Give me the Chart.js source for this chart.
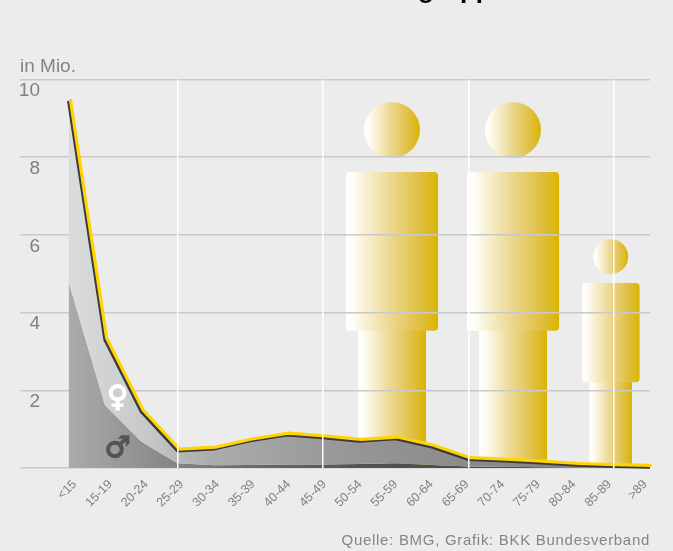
<!DOCTYPE html>
<html lang="de">
<head>
<meta charset="utf-8">
<script src="https://cdn.jsdelivr.net/npm/chart.js@4"></script>
<style>
  html,body{margin:0;padding:0;background:#ececec;overflow:hidden}
  #wrap{position:relative;width:673px;height:551px;font-family:'Liberation Sans',sans-serif}
  canvas{position:absolute;left:0;top:0}
  .txt{position:absolute;white-space:nowrap;color:#858585}
  #title{right:151px;top:-26.3px;font-size:26px;font-weight:bold;color:#000}
  #unit{left:20px;top:55px;font-size:19px}
  #source{right:23px;top:531px;font-size:15px;letter-spacing:.7px}
</style>
</head>
<body>
<div id="wrap">
  <canvas id="chart" width="673" height="551"></canvas>
  <div class="txt" id="title">Versicherte nach Altersgruppen</div>
  <div class="txt" id="unit">in Mio.</div>
  <div class="txt" id="source">Quelle: BMG, Grafik: BKK Bundesverband</div>
</div>
<script>
const ageGroups = ['<15','15-19','20-24','25-29','30-34','35-39','40-44','45-49','50-54','55-59','60-64','65-69','70-74','75-79','80-84','85-89','>89'];
const totalValues = [9.45,3.3,1.45,0.44,0.49,0.7,0.85,0.78,0.69,0.75,0.54,0.22,0.18,0.13,0.07,0.04,0.02];
const maleValues = [4.8,1.62,0.68,0.12,0.07,0.08,0.09,0.09,0.1,0.12,0.08,0.04,0.03,0.02,0.01,0.01,0];
const yTicks = [0,2,4,6,8,10];
const dividerGroups = ['25-29','45-49','65-69','85-89'];

// pictograms: position on the age axis, height in Mio.
const figureGroups = [8.9,12.23,14.92];
const figureHeights = [9.42,9.42,5.89];

const ink = '#3a3a3c', gold = '#ffd400', label = '#808080';

function hGradient(ctx, x0, x1, stops){
  const g = ctx.createLinearGradient(x0,0,x1,0);
  stops.forEach(s=>g.addColorStop(s[0],s[1]));
  return g;
}

function femaleFill(c){
  const a = c.chart.chartArea;
  if(!a) return '#aaa';
  return hGradient(c.chart.ctx,a.left,a.right,[[0,'#dadcde'],[.14,'#c6c7c9'],[.2,'#b4b4b4'],[.25,'#ababab'],[.5,'#959595'],[.7,'#8a8a8a'],[1,'#808080']]);
}
function maleFill(c){
  const a = c.chart.chartArea;
  if(!a) return '#888';
  return hGradient(c.chart.ctx,a.left,a.right,[[0,'#ababab'],[.18,'#868686'],[.3,'#6c6c6c'],[.5,'#535353'],[.65,'#4c4c4c'],[1,'#5a5a5a']]);
}

const figures = {
  id:'figures',
  beforeDraw(chart){
    const {ctx,scales:{x,y}} = chart;
    const base = y.getPixelForValue(0);
    figureGroups.forEach((g,i)=>{
      const cx = x.getPixelForValue(g);
      const h = base-y.getPixelForValue(figureHeights[i]);
      const top = base-h;
      const stops = [[0,'#ffffff'],[.08,'#fffdf6'],[.5,'#ebd68c'],[.82,'#dfbe3d'],[1,'#d9b500']];
      const bw = h*.126, lw = h*.093, r = h*.0765;
      ctx.save();
      ctx.fillStyle = hGradient(ctx,cx-lw,cx+lw,stops);
      ctx.fillRect(cx-lw,top+h*.6,lw*2,h*.4);
      ctx.fillStyle = hGradient(ctx,cx-bw,cx+bw,stops);
      ctx.beginPath();
      ctx.roundRect(cx-bw,top+h*.191,bw*2,h*.434,4);
      ctx.fill();
      ctx.fillStyle = hGradient(ctx,cx-r,cx+r,stops);
      ctx.beginPath();
      ctx.arc(cx,top+r,r,0,Math.PI*2);
      ctx.fill();
      ctx.restore();
    });
  }
};

// the gold line sits a little up and to the right of the dark one
const goldShift = {
  id:'goldShift',
  beforeDatasetDraw(chart,args){
    if(args.index!==0) return;
    chart.ctx.save();
    chart.ctx.translate(1.8,-1.8);
  },
  afterDatasetDraw(chart,args){
    if(args.index===0) chart.ctx.restore();
  }
};

const genderMarks = {
  id:'genderMarks',
  afterDatasetsDraw(chart){
    const {ctx,scales:{x,y}} = chart;
    ctx.save();
    ctx.textAlign = 'center';
    ctx.textBaseline = 'middle';
    ctx.font = "bold 29px 'DejaVu Sans'";
    ctx.lineWidth = 1.6;
    ctx.fillStyle = ctx.strokeStyle = '#ffffff';
    ctx.fillText('\u2640',x.getPixelForValue(1.35),y.getPixelForValue(1.8));
    ctx.strokeText('\u2640',x.getPixelForValue(1.35),y.getPixelForValue(1.8));
    ctx.fillStyle = ctx.strokeStyle = '#555557';
    ctx.fillText('\u2642',x.getPixelForValue(1.35),y.getPixelForValue(.47));
    ctx.strokeText('\u2642',x.getPixelForValue(1.35),y.getPixelForValue(.47));
    ctx.restore();
  }
};

new Chart(document.getElementById('chart'),{
  type:'line',
  data:{
    labels:ageGroups,
    datasets:[
      {label:'gesamt',data:totalValues,borderColor:gold,borderWidth:3.2,pointRadius:0,fill:false,clip:false},
      {label:'Frauen',data:totalValues,borderColor:ink,borderWidth:3,pointRadius:0,backgroundColor:femaleFill,fill:'+1',clip:false},
      {label:'Männer',data:maleValues,borderWidth:0,pointRadius:0,backgroundColor:maleFill,fill:'origin',clip:false}
    ]
  },
  options:{
    responsive:false,
    animation:false,
    devicePixelRatio:1,
    elements:{line:{tension:0,borderJoinStyle:'miter'}},
    layout:{padding:{left:20,top:79.5,right:23,bottom:0}},
    plugins:{legend:{display:false},tooltip:{enabled:false},title:{display:false}},
    scales:{
      x:{
        type:'category',
        offset:false,
        afterFit(s){ s.height = 0; },
        border:{display:false},
        grid:{
          z:1,
          drawTicks:false,
          lineWidth:1.5,
          color:c=>dividerGroups.includes(ageGroups[c.index])?'#ffffff':'rgba(0,0,0,0)'
        },
        ticks:{display:false}
      },
      // the printed labels run on a slightly tighter step than the data points
      xLabels:{
        type:'linear',
        axis:'x',
        position:'bottom',
        min:0,
        max:16.31,
        afterBuildTicks(s){ s.ticks = ageGroups.map((g,i)=>({value:i})); },
        afterFit(s){ s.height = 83; },
        border:{display:false},
        grid:{display:false},
        ticks:{
          autoSkip:false,
          minRotation:45,
          maxRotation:45,
          padding:1,
          labelOffset:6.3,
          color:label,
          font:{family:"'Liberation Sans'",size:12.5},
          callback:v=>ageGroups[v]
        }
      },
      y:{
        min:0,
        max:10,
        afterFit(s){ s.width = 48.5; },
        afterBuildTicks(s){ s.ticks = yTicks.map(v=>({value:v})); },
        border:{display:false},
        grid:{color:'#c9c9c9',lineWidth:1.5,tickLength:48.5,tickColor:'#c9c9c9'},
        ticks:{
          padding:-20,
          labelOffset:11.5,
          color:label,
          font:{family:"'Liberation Sans'",size:19},
          callback:v=>v===0?'':String(v)
        }
      }
    }
  },
  plugins:[figures,goldShift,genderMarks]
});
</script>
</body>
</html>
